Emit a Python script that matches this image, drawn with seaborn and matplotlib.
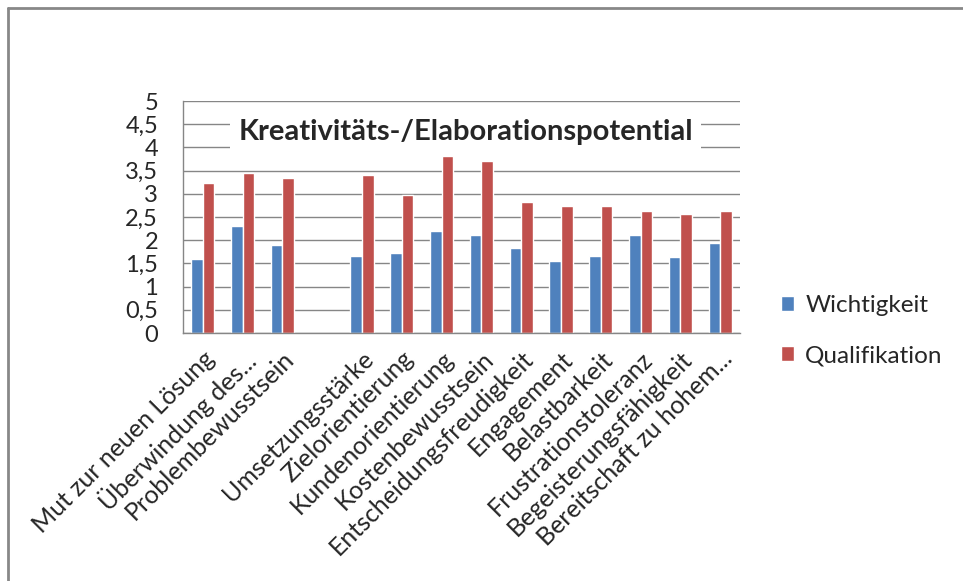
import matplotlib
matplotlib.use("Agg")
import matplotlib.pyplot as plt
from matplotlib.lines import Line2D
import seaborn as sns
import pandas as pd

# Kategorien (leerer Eintrag = Lücke zwischen den Gruppen)
categories = [
    "Mut zur neuen Lösung", "Überwindung des...", "Problembewusstsein", "",
    "Umsetzungsstärke", "Zielorientierung", "Kundenorientierung",
    "Kostenbewusstsein", "Entscheidungsfreudigkeit", "Engagement",
    "Belastbarkeit", "Frustrationstoleranz", "Begeisterungsfähigkeit",
    "Bereitschaft zu hohem...",
]
wichtigkeit = [1.59, 2.31, 1.89, None, 1.67, 1.72, 2.19, 2.11, 1.83, 1.55,
               1.67, 2.11, 1.64, 1.94]
qualifikation = [3.24, 3.44, 3.33, None, 3.41, 2.97, 3.82, 3.71, 2.82, 2.74,
                 2.74, 2.63, 2.57, 2.63]
series = ["Wichtigkeit", "Qualifikation"]
y_ticks = [0, 0.5, 1, 1.5, 2, 2.5, 3, 3.5, 4, 4.5, 5]
title = "Kreativitäts-/Elaborationspotential"

rows = []
for c, w, q in zip(categories, wichtigkeit, qualifikation):
    if w is None:
        continue
    rows.append({"Merkmal": c, "Serie": series[0], "Wert": w})
    rows.append({"Merkmal": c, "Serie": series[1], "Wert": q})
df = pd.DataFrame(rows)

sns.set_theme(style="white")
plt.rcParams["font.family"] = ["Lato", "DejaVu Sans"]

fig = plt.figure(figsize=(9.63, 5.81), dpi=100)
ax = fig.add_axes([183 / 963, 1 - 333 / 581, (740 - 183) / 963, (333 - 101) / 581])

sns.barplot(data=df, x="Merkmal", y="Wert", hue="Serie", order=categories,
            hue_order=series, palette=["#4F81BD", "#C0504D"], width=0.58,
            saturation=1, ax=ax, legend=True)

ax.set_ylim(0, 5)
ax.set_xlim(-0.5, len(categories) - 0.5)
ax.set_yticks(y_ticks)
ax.set_yticklabels([f"{v:g}".replace(".", ",") for v in y_ticks], fontsize=17)
ax.yaxis.grid(True, color="#868686", linewidth=1)
ax.set_axisbelow(True)
ax.set_xlabel("")
ax.set_ylabel("")
ax.tick_params(axis="both", length=0)
ax.tick_params(axis="y", pad=18)
ax.set_xticks(range(len(categories)))
ax.set_xticklabels(categories, rotation=45, ha="right", rotation_mode="anchor",
                   fontsize=18)
ax.tick_params(axis="x", pad=10)

for side in ("top", "right"):
    ax.spines[side].set_visible(False)
for side in ("left", "bottom"):
    ax.spines[side].set_color("#868686")
    ax.spines[side].set_linewidth(1)

ax.text(6.6, 4.34, title, fontsize=21, fontweight="bold", ha="center",
        va="center", zorder=5,
        bbox=dict(facecolor="white", edgecolor="none", pad=6))

handles, labels = ax.get_legend_handles_labels()
ax.get_legend().remove()
fig.legend(handles, labels, loc="upper left", bbox_to_anchor=(759 / 963, 1 - 273 / 581),
           frameon=False, fontsize=17.5, handlelength=0.55, handleheight=0.55,
           handletextpad=0.45, labelspacing=1.2)

# Rahmen um die Grafik (oben und links sichtbar)
fig.add_artist(Line2D([8 / 963, 8 / 963], [0, 1 - 8 / 581], transform=fig.transFigure,
                      color="#888888", linewidth=2))
fig.add_artist(Line2D([8 / 963, 1], [1 - 8 / 581, 1 - 8 / 581], transform=fig.transFigure,
                      color="#888888", linewidth=2))

fig.savefig("out.png", dpi=100)
